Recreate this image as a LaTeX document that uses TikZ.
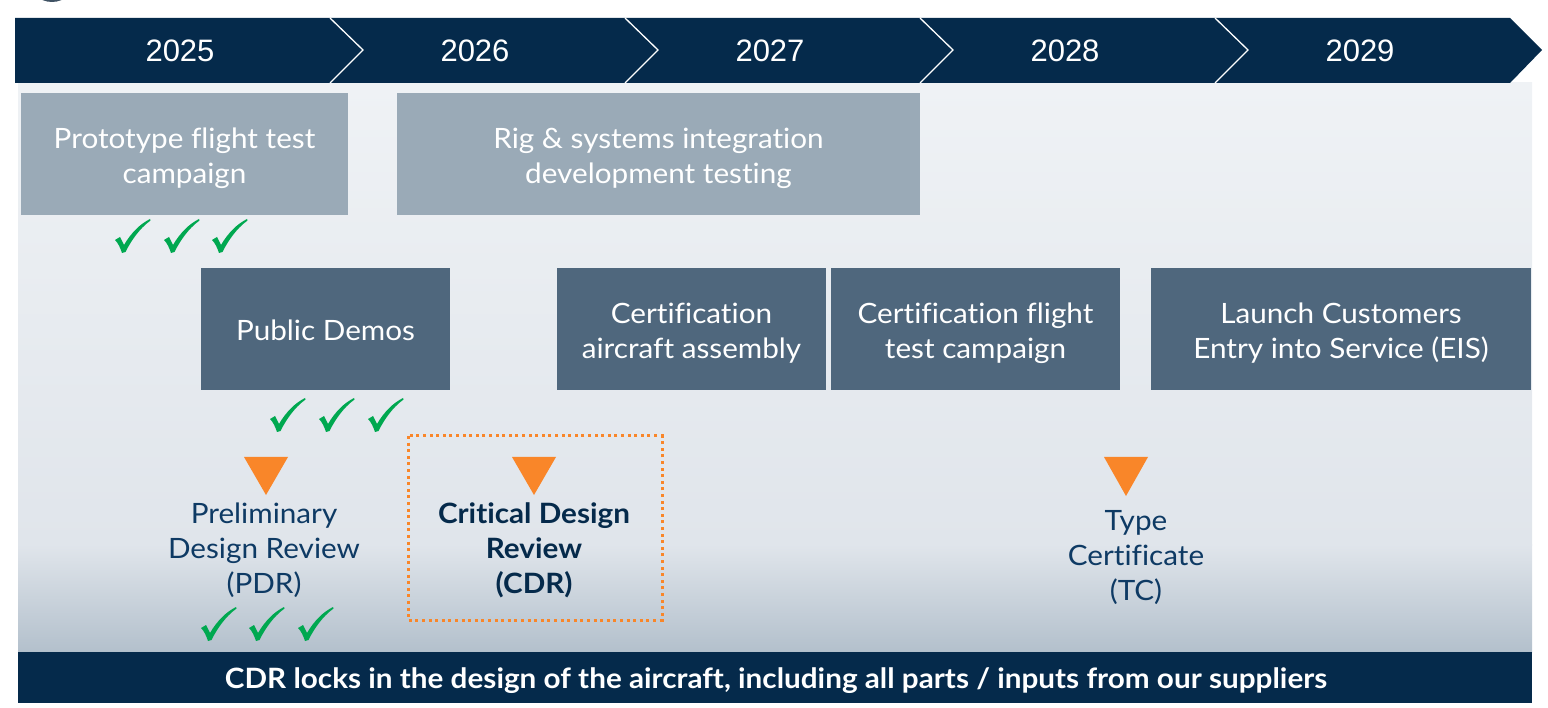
\documentclass[tikz,border=0pt]{standalone}
\usepackage{fontspec}
\setmainfont{Lato}[FakeStretch=1.06, Ligatures=NoCommon]
\newfontfamily\yearfont{Liberation Sans}
\definecolor{navy}{HTML}{052A4B}
\definecolor{lightbox}{HTML}{9AAAB7}
\definecolor{darkbox}{HTML}{4F677D}
\definecolor{mileorange}{HTML}{F98629}
\definecolor{chkgreen}{HTML}{00A850}
\definecolor{labelnavy}{HTML}{0E3A64}
\definecolor{bgtop}{HTML}{EFF2F5}
\definecolor{bgmid}{HTML}{E0E5EB}
\definecolor{bgbot}{HTML}{B3C0CC}
\tikzset{
  phasebox/.style={fill=#1, inner sep=0pt},
  boxtext/.style={text=white, align=center, inner sep=0pt, yshift=-4pt,
    font=\fontsize{28}{35}\selectfont},
  yearlabel/.style={text=white, font=\yearfont\fontsize{31}{36}\selectfont},
  milelabel/.style={text=labelnavy, align=center, font=\fontsize{28}{35}\selectfont},
  sepline/.style={white, line width=1.3pt},
  chk/.pic={\fill[chkgreen] (0,21) -- (5,18) -- (9,26) .. controls (16,14) and (25,5) .. (35,0) -- (35.5,1.5) .. controls (24,10) and (16,22) .. (10.5,33) -- (7,34) .. controls (5,28) and (3,24) .. (0,21) -- cycle;},
  tri/.style={fill=mileorange}
}
\begin{document}
\begin{tikzpicture}[x=1pt,y=-1pt]
\useasboundingbox (0,0) rectangle (1548,708);
% partial element at top-left
\fill[darkbox!80!black] (52,-22) circle (24);
% background panel
\shade[top color=bgtop, bottom color=bgmid] (18,83) rectangle (1532,545);
\shade[top color=bgmid, bottom color=bgbot] (18,544.5) rectangle (1532,652);
% year band
\fill[navy] (15,18) -- (1510,18) -- (1542,50) -- (1510,83) -- (15,83) -- cycle;
\foreach \x in {330,625,920,1215}{
  \draw[sepline] (\x,18) -- (\x+33,50) -- (\x,83);
}
\node[yearlabel] (y25) at (180,51) {2025};
\node[yearlabel] (y26) at (475,51) {2026};
\node[yearlabel] (y27) at (770,51) {2027};
\node[yearlabel] (y28) at (1065,51) {2028};
\node[yearlabel] (y29) at (1360,51) {2029};
% phase boxes
\node[phasebox=lightbox, minimum width=327pt, minimum height=122pt,
  label={[boxtext]center:{Prototype flight test\\campaign}}] (proto) at (184.5,154) {};
\node[phasebox=lightbox, minimum width=523pt, minimum height=122pt,
  label={[boxtext]center:{Rig \& systems integration\\development testing}}] (rig) at (658.5,154) {};
\node[phasebox=darkbox, minimum width=249pt, minimum height=122pt,
  label={[boxtext, yshift=3pt]center:{Public Demos}}] (demos) at (325.5,329) {};
\node[phasebox=darkbox, minimum width=269pt, minimum height=122pt,
  label={[boxtext]center:{Certification\\aircraft assembly}}] (asm) at (691.5,329) {};
\node[phasebox=darkbox, minimum width=289pt, minimum height=122pt,
  label={[boxtext]center:{Certification flight\\test campaign}}] (cft) at (975.5,329) {};
\node[phasebox=darkbox, minimum width=380pt, minimum height=122pt,
  label={[boxtext]center:{Launch Customers\\Entry into Service (EIS)}}] (eis) at (1341,329) {};
% checkmarks
\foreach \x in {115,164,212}{ \pic at (\x,219) {chk}; }
\foreach \x in {270,319,368}{ \pic at (\x,398) {chk}; }
\foreach \x in {201,249,298}{ \pic at (\x,607) {chk}; }
% milestones
\fill[tri] (244,457) -- (288,457) -- (266,495) -- cycle;
\fill[tri] (512,457) -- (556,457) -- (534,495) -- cycle;
\fill[tri] (1104,457) -- (1148,457) -- (1126,496) -- cycle;
\node[milelabel] (pdr) at (264,550) {Preliminary\\Design Review\\(PDR)};
\node[milelabel, text=navy, font=\bfseries\fontsize{28}{35}\selectfont] (cdr) at (534,550) {Critical Design\\Review\\(CDR)};
\node[milelabel] (tc) at (1136,558) {Type\\Certificate\\(TC)};
\draw[mileorange, line width=3pt, dash pattern=on 3pt off 3.6pt] (408,436) rectangle (662,620);
% bottom bar
\fill[navy] (18,652) rectangle (1532,703);
\node[text=white, font=\bfseries\fontsize{28}{30}\selectfont] (note) at (776,681) {CDR locks in the design of the aircraft, including all parts / inputs from our suppliers};
\end{tikzpicture}
\end{document}
